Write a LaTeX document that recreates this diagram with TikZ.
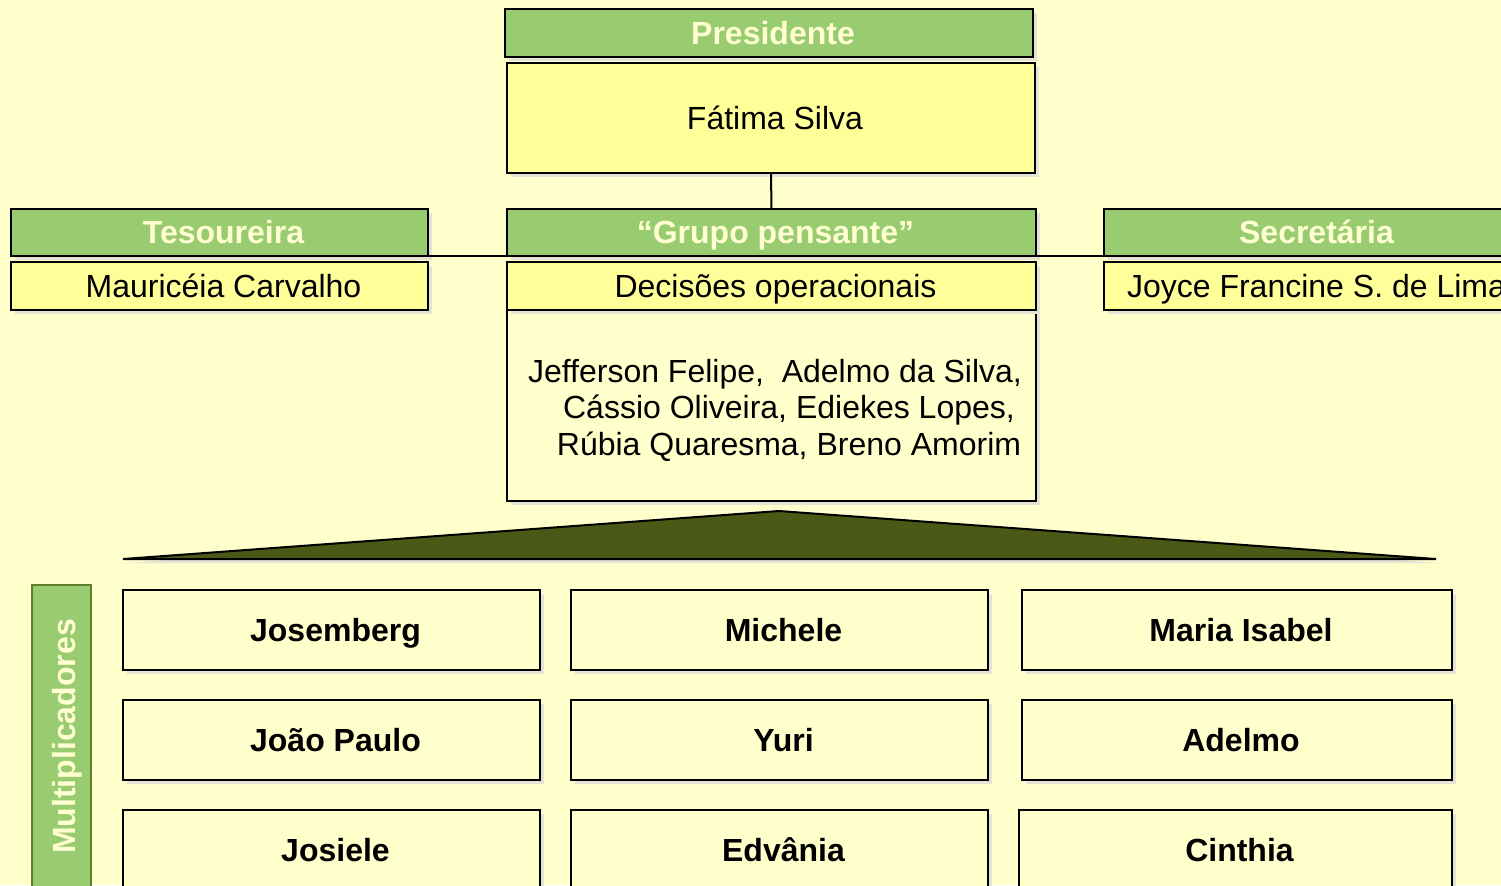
\documentclass[tikz,border=0pt]{standalone}
\usepackage{fontspec}
\setmainfont{Liberation Sans}
\usetikzlibrary{shadows}
\definecolor{bgc}{RGB}{255,255,204}
\definecolor{greenc}{RGB}{153,204,112}
\definecolor{yellowc}{RGB}{255,255,153}
\definecolor{shadowc}{RGB}{228,228,214}
\definecolor{olivec}{RGB}{74,90,22}
\definecolor{multborder}{RGB}{95,125,45}
\definecolor{titletext}{RGB}{255,255,210}
\begin{document}
\begin{tikzpicture}[x=0.5pt,y=-0.5pt,
  every node/.style={font=\fontsize{16pt}{18.25pt}\selectfont, inner sep=0pt, outer sep=0pt},
  shad/.style={drop shadow={shadow xshift=2pt,shadow yshift=-2pt,fill=shadowc,opacity=1}},
  box/.style={shad, draw=black, line width=1pt, rectangle, text height=11.4pt, text depth=0pt,
    execute at begin node=\hspace*{4pt}},
  greenbox/.style={box, fill=greenc, text=titletext, font=\fontsize{16pt}{18.25pt}\selectfont\bfseries},
  yellowbox/.style={box, fill=yellowc},
  plainbox/.style={box, fill=bgc},
  namebox/.style={box, fill=bgc, font=\fontsize{16pt}{18.25pt}\selectfont\bfseries, minimum height=40pt},
  link/.style={draw=black, line width=1pt}
]
\useasboundingbox (0,0) rectangle (1501,885);
\clip (0,0) rectangle (1501,885);
\fill[bgc] (0,0) rectangle (1501,885);

% top
\node[greenbox, minimum width=264pt, minimum height=24pt] (pres) at (769,33) {Presidente};
\node[yellowbox, minimum width=264pt, minimum height=55pt] (fatima) at (771,118) {Fátima Silva};

% second level
\node[greenbox, minimum width=208.5pt, minimum height=23.5pt] (tes) at (219.5,232.5) {Tesoureira};
\node[yellowbox, minimum width=208.5pt, minimum height=24pt] (maur) at (219.5,286) {Mauricéia Carvalho};

\node[greenbox, minimum width=264.5pt, minimum height=23.5pt] (grupo) at (771.5,232.5) {“Grupo pensante”};
\node[plainbox, minimum width=264.5pt, minimum height=95.5pt] (members) at (771.5,405.5) {};
\node[yellowbox, minimum width=264.5pt, minimum height=24pt] (dec) at (771.5,286) {Decisões operacionais};
\node[align=center] (memtext) at (775,410) {Jefferson Felipe,\ \ Adelmo da Silva,\\\hspace*{14pt}Cássio Oliveira, Ediekes Lopes,\\\hspace*{14pt}Rúbia Quaresma, Breno Amorim};

\node[greenbox, minimum width=208.5pt, minimum height=23.5pt] (sec) at (1312.5,232.5) {Secretária};
\node[yellowbox, minimum width=208.5pt, minimum height=24pt] (joyce) at (1312.5,286) {Joyce Francine S. de Lima};

% connectors
\draw[link] (fatima.south) -- (grupo.north);
\draw[link] (tes.south east) -- (grupo.south west);
\draw[link] (grupo.south east) -- (sec.south west);

% triangle
\coordinate (apex) at (779,511);
\coordinate (bl) at (123,559);
\coordinate (br) at (1436,559);
\filldraw[shad, fill=olivec, draw=black, line width=1pt, line join=miter] (bl) -- (apex) -- (br) -- cycle;

% multiplicadores
\node[draw=multborder, line width=0.6pt, fill=greenc, minimum width=29.5pt, minimum height=157.5pt] (mult) at (61.5,742.5) {};
\node[rotate=90, text=titletext, text height=11.4pt, text depth=0pt, font=\fontsize{16pt}{18.25pt}\selectfont\bfseries] (multtext) at (64,736.5) {Multiplicadores};

% grid
\node[namebox, minimum width=208.5pt] (n11) at (331.5,630) {Josemberg};
\node[namebox, minimum width=208.5pt] (n12) at (779.5,630) {Michele};
\node[namebox, minimum width=215pt] (n13) at (1237,630) {Maria Isabel};
\node[namebox, minimum width=208.5pt] (n21) at (331.5,740) {João Paulo};
\node[namebox, minimum width=208.5pt] (n22) at (779.5,740) {Yuri};
\node[namebox, minimum width=215pt] (n23) at (1237,740) {Adelmo};
\node[namebox, minimum width=208.5pt] (n31) at (331.5,850) {Josiele};
\node[namebox, minimum width=208.5pt] (n32) at (779.5,850) {Edvânia};
\node[namebox, minimum width=216.5pt] (n33) at (1235.5,850) {Cinthia};
\end{tikzpicture}
\end{document}
